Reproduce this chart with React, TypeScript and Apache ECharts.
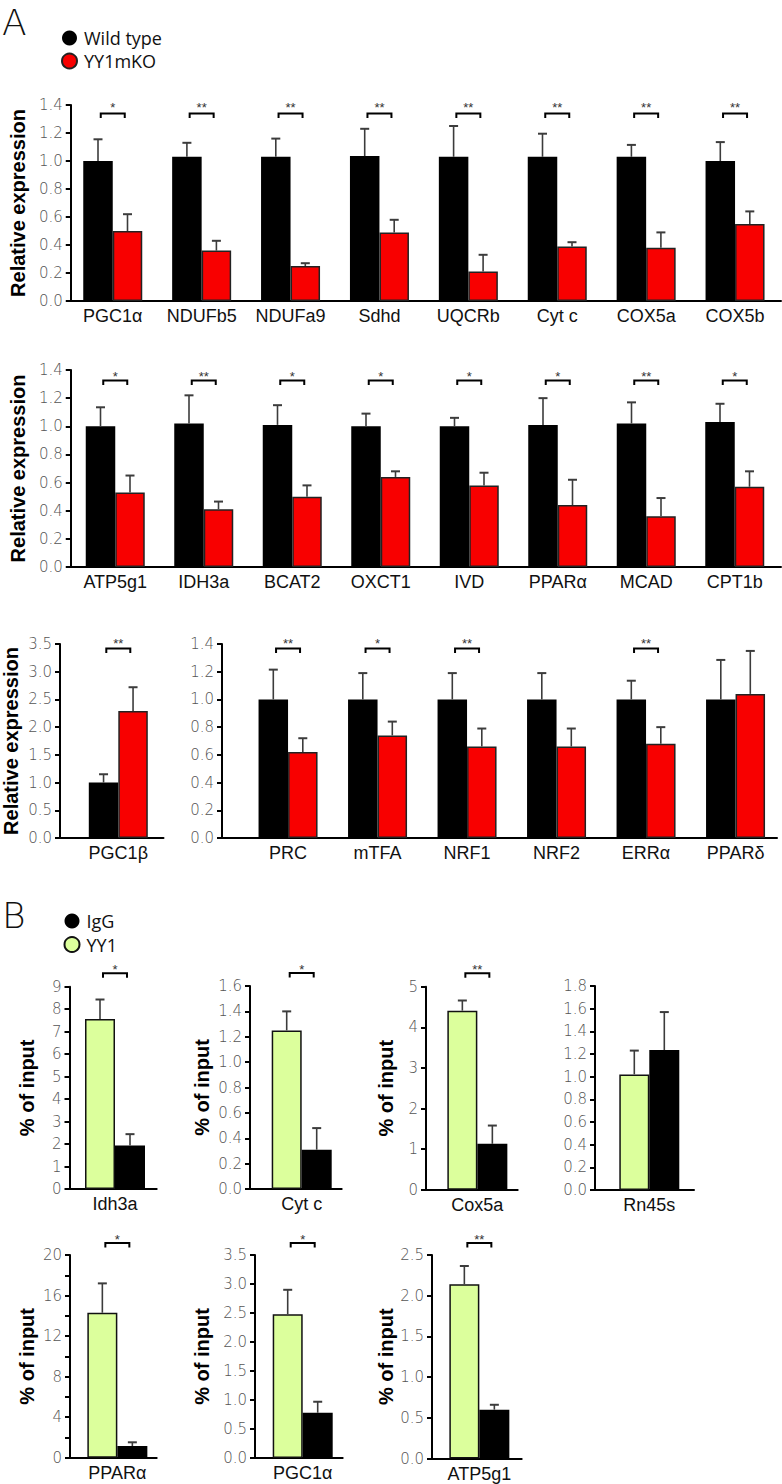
import React, { useEffect, useRef } from "react";
import * as echarts from "echarts";

// ---------- Panel A data ----------
const catsA1 = ["PGC1α", "NDUFb5", "NDUFa9", "Sdhd", "UQCRb", "Cyt c", "COX5a", "COX5b"];
const wtA1 = [1.0, 1.03, 1.03, 1.035, 1.03, 1.03, 1.03, 1.0];
const wtErrA1 = [0.155, 0.1, 0.13, 0.195, 0.22, 0.165, 0.085, 0.135];
const koA1 = [0.5, 0.36, 0.25, 0.49, 0.21, 0.39, 0.38, 0.55];
const koErrA1 = [0.12, 0.07, 0.02, 0.09, 0.12, 0.03, 0.11, 0.09];
const sigA1 = ["*", "**", "**", "**", "**", "**", "**", "**"];

const catsA2 = ["ATP5g1", "IDH3a", "BCAT2", "OXCT1", "IVD", "PPARα", "MCAD", "CPT1b"];
const wtA2 = [1.0, 1.02, 1.01, 1.0, 1.0, 1.01, 1.02, 1.03];
const wtErrA2 = [0.135, 0.2, 0.14, 0.09, 0.06, 0.19, 0.15, 0.13];
const koA2 = [0.53, 0.41, 0.5, 0.64, 0.58, 0.44, 0.36, 0.57];
const koErrA2 = [0.12, 0.055, 0.08, 0.04, 0.09, 0.18, 0.13, 0.11];
const sigA2 = ["*", "**", "*", "*", "*", "*", "**", "*"];

const catsA3 = ["PGC1β"];
const wtA3 = [1.0];
const wtErrA3 = [0.15];
const koA3 = [2.29];
const koErrA3 = [0.43];
const sigA3 = ["**"];

const catsA4 = ["PRC", "mTFA", "NRF1", "NRF2", "ERRα", "PPARδ"];
const wtA4 = [1.0, 1.0, 1.0, 1.0, 1.0, 1.0];
const wtErrA4 = [0.215, 0.19, 0.19, 0.19, 0.135, 0.285];
const koA4 = [0.62, 0.74, 0.66, 0.66, 0.68, 1.04];
const koErrA4 = [0.1, 0.1, 0.13, 0.13, 0.12, 0.31];
const sigA4 = ["**", "*", "**", "", "**", ""];

// ---------- Panel B data (YY1 first, IgG second) ----------
const catsB = ["Idh3a", "Cyt c", "Cox5a", "Rn45s", "PPARα", "PGC1α", "ATP5g1"];
const yy1B = [7.56, 1.25, 4.41, 1.02, 14.3, 2.48, 2.14];
const yy1ErrB = [0.87, 0.15, 0.25, 0.21, 2.9, 0.42, 0.225];
const iggB = [1.93, 0.31, 1.13, 1.235, 1.15, 0.78, 0.6];
const iggErrB = [0.51, 0.17, 0.45, 0.335, 0.37, 0.19, 0.06];
const sigB = ["*", "*", "**", "", "*", "*", "**"];
const yMaxB = [9, 1.6, 5, 1.8, 20, 3.5, 2.5];
const yStepB = [1, 0.2, 1, 0.2, 4, 0.5, 0.5];

const LEGEND_A = ["Wild type", "YY1mKO"];
const LEGEND_B = ["IgG", "YY1"];

const BLACK = "#000000";
const RED = "#f80000";
const GREEN = "#dcff9c";

type Spec = {
  cats: string[];
  s1: number[]; e1: number[]; s2: number[]; e2: number[];
  sig: string[];
  names: string[];
  colors: string[];
  borders: string[];
  yMax: number; yStep: number; dec: number; minor?: boolean;
  yName?: string; nameGap?: number;
  axisX: number; axisEnd: number; bandL: number; bandR: number; top: number; bottom: number;
  barW: number; bDy: number; sDy: number;
};

const specs: Spec[] = [
  { cats: catsA1, s1: wtA1, e1: wtErrA1, s2: koA1, e2: koErrA1, sig: sigA1, names: LEGEND_A, colors: [BLACK, RED], borders: [BLACK, "#222"],
    yMax: 1.4, yStep: 0.2, dec: 1, yName: "Relative expression", nameGap: 39,
    axisX: 60, axisEnd: 781, bandL: 68.3, bandR: 779.5, top: 105, bottom: 301, barW: 29.5, bDy: 8.5, sDy: -0.5 },
  { cats: catsA2, s1: wtA2, e1: wtErrA2, s2: koA2, e2: koErrA2, sig: sigA2, names: LEGEND_A, colors: [BLACK, RED], borders: [BLACK, "#222"],
    yMax: 1.4, yStep: 0.2, dec: 1, yName: "Relative expression", nameGap: 39,
    axisX: 60, axisEnd: 781, bandL: 71, bandR: 779, top: 370, bottom: 567, barW: 29.5, bDy: 10.5, sDy: 3 },
  { cats: catsA3, s1: wtA3, e1: wtErrA3, s2: koA3, e2: koErrA3, sig: sigA3, names: LEGEND_A, colors: [BLACK, RED], borders: [BLACK, "#222"],
    yMax: 3.5, yStep: 0.5, dec: 1, yName: "Relative expression", nameGap: 39,
    axisX: 59, axisEnd: 163.5, bandL: 73, bandR: 163.6, top: 644, bottom: 838, barW: 29.5, bDy: 4.5, sDy: -4 },
  { cats: catsA4, s1: wtA4, e1: wtErrA4, s2: koA4, e2: koErrA4, sig: sigA4, names: LEGEND_A, colors: [BLACK, RED], borders: [BLACK, "#222"],
    yMax: 1.4, yStep: 0.2, dec: 1,
    axisX: 222, axisEnd: 777, bandL: 243.3, bandR: 780.3, top: 644, bottom: 838, barW: 29.5, bDy: 4.5, sDy: -4 },
];

const bLayout = [
  { axisX: 69.5, axisEnd: 156.7, bandL: 73, bandR: 157, top: 986.7, bottom: 1189, nameGap: 32.5, bDy: -13.5, sDy: -20.5 },
  { axisX: 250, axisEnd: 341.7, bandL: 261.7, bandR: 341.7, top: 986, bottom: 1189, nameGap: 38, bDy: -13, sDy: -20 },
  { axisX: 426, axisEnd: 517.7, bandL: 437, bandR: 517.7, top: 986.7, bottom: 1189.7, nameGap: 30, bDy: -13.5, sDy: -20 },
  { axisX: 595, axisEnd: 694, bandL: 604.6, bandR: 694, top: 986, bottom: 1190, nameGap: 0, bDy: -13, sDy: -20 },
  { axisX: 70, axisEnd: 156.7, bandL: 78, bandR: 156.7, top: 1255, bottom: 1457.7, nameGap: 33, bDy: -12, sDy: -18.5 },
  { axisX: 255, axisEnd: 342.7, bandL: 262.7, bandR: 342.7, top: 1255, bottom: 1458, nameGap: 43, bDy: -12, sDy: -18.5 },
  { axisX: 432, axisEnd: 521.7, bandL: 437, bandR: 521.7, top: 1255, bottom: 1458.5, nameGap: 36, bDy: -12, sDy: -18.5 },
];

catsB.forEach((c, i) => {
  const L = bLayout[i];
  specs.push({
    cats: [c], s1: [yy1B[i]], e1: [yy1ErrB[i]], s2: [iggB[i]], e2: [iggErrB[i]], sig: [sigB[i]],
    names: [LEGEND_B[1], LEGEND_B[0]], colors: [GREEN, BLACK], borders: ["#111", BLACK],
    yMax: yMaxB[i], yStep: yStepB[i], dec: yStepB[i] < 1 ? 1 : 0, minor: i === 4,
    yName: i === 3 ? undefined : "% of input", nameGap: L.nameGap,
    axisX: L.axisX, axisEnd: L.axisEnd, bandL: L.bandL, bandR: L.bandR, top: L.top, bottom: L.bottom,
    barW: 30, bDy: L.bDy, sDy: L.sDy,
  });
});

const TICK_FONT = { color: "#555", fontSize: 15, fontFamily: "DejaVu Sans", fontWeight: 200 as any };

function buildOption() {
  const grid: any[] = [];
  const xAxis: any[] = [];
  const yAxis: any[] = [];
  const series: any[] = [];

  specs.forEach((c, k) => {
    const ga = 2 * k;
    const gb = 2 * k + 1;
    const h = c.bottom - c.top;
    grid.push({ left: c.axisX, width: c.axisEnd - c.axisX, top: c.top, height: h });
    grid.push({ left: c.bandL, width: c.bandR - c.bandL, top: c.top, height: h });

    xAxis.push({
      gridIndex: ga, type: "value", min: 0, max: 1,
      axisLine: { show: true, onZero: false, lineStyle: { color: "#000", width: 2 } },
      axisTick: { show: false }, axisLabel: { show: false }, splitLine: { show: false },
    });
    yAxis.push({
      gridIndex: ga, type: "value", min: 0, max: c.yMax, interval: c.yStep,
      axisLine: { show: true, lineStyle: { color: "#000", width: 2 } },
      axisTick: { show: true, length: 5, lineStyle: { color: "#000", width: 2 } },
      minorTick: c.minor
        ? { show: true, splitNumber: 2, length: 5, lineStyle: { color: "#000", width: 2 } }
        : { show: false },
      axisLabel: { ...TICK_FONT, margin: 8, formatter: (v: number) => v.toFixed(c.dec) },
      splitLine: { show: false },
      name: c.yName || "",
      nameLocation: "middle",
      nameGap: c.nameGap || 0,
      nameTextStyle: { fontSize: 20, fontWeight: "bold", fontFamily: "Liberation Sans", color: "#000" },
    });
    xAxis.push({
      gridIndex: gb, type: "category", data: c.cats,
      axisLine: { show: false }, axisTick: { show: false },
      axisLabel: { interval: 0, margin: 6, fontSize: 18, color: "#111", fontFamily: "Liberation Sans" },
    });
    yAxis.push({ gridIndex: gb, type: "value", min: 0, max: c.yMax, show: false });

    [0, 1].forEach((j) => {
      const vals = j === 0 ? c.s1 : c.s2;
      const errs = j === 0 ? c.e1 : c.e2;
      series.push({
        type: "bar", name: c.names[j], xAxisIndex: gb, yAxisIndex: gb,
        data: vals, barWidth: c.barW, barGap: "0%",
        itemStyle: { color: c.colors[j], borderColor: c.borders[j], borderWidth: c.colors[j] === BLACK ? 0 : 1.5 },
        z: 2,
      });
      const off = (j === 0 ? -1 : 1) * c.barW / 2;
      series.push({
        type: "custom", name: "err" + k + "_" + j, xAxisIndex: gb, yAxisIndex: gb, z: 3,
        data: vals.map((v, i) => [i, v, errs[i]]),
        renderItem: (_p: any, api: any) => {
          const i = api.value(0);
          const v = api.value(1);
          const e = api.value(2);
          const p0 = api.coord([i, v]);
          const p1 = api.coord([i, v + e]);
          const x = p0[0] + off;
          return {
            type: "group",
            children: [
              { type: "line", shape: { x1: x, y1: p0[1], x2: x, y2: p1[1] }, style: { stroke: "#3c3c3c", lineWidth: 1.6 } },
              { type: "line", shape: { x1: x - 4.5, y1: p1[1], x2: x + 4.5, y2: p1[1] }, style: { stroke: "#3c3c3c", lineWidth: 2 } },
            ],
          };
        },
      });
    });

    series.push({
      type: "custom", name: "sig" + k, xAxisIndex: gb, yAxisIndex: gb, z: 4,
      data: c.sig.map((s, i) => [i, c.yMax]).filter((d) => c.sig[d[0]] !== ""),
      renderItem: (_p: any, api: any) => {
        const i = api.value(0);
        const p = api.coord([i, c.yMax]);
        const yb = p[1] + c.bDy;
        const hw = 12;
        return {
          type: "group",
          children: [
            {
              type: "polyline",
              shape: { points: [[p[0] - hw, yb + 4.5], [p[0] - hw, yb], [p[0] + hw, yb], [p[0] + hw, yb + 4.5]] },
              style: { stroke: "#000", lineWidth: 2, fill: null },
            },
            {
              type: "text", x: p[0], y: p[1] + c.sDy + 3,
              style: { text: c.sig[i], align: "center", verticalAlign: "middle", fontSize: 13, fill: "#333", fontFamily: "Liberation Sans" },
            },
          ],
        };
      },
    });
  });

  const legendText = { fontSize: 18, fontFamily: "Open Sans", color: "#111", lineHeight: 15 };
  return {
    animation: false,
    grid, xAxis, yAxis, series,
    legend: [
      { data: LEGEND_A, orient: "vertical", left: 61, top: 29, itemWidth: 19, itemHeight: 15, itemGap: 5, icon: "circle", selectedMode: false, textStyle: legendText, padding: 0 },
      { data: LEGEND_B, orient: "vertical", left: 63.5, top: 912, itemWidth: 19, itemHeight: 15, itemGap: 5.5, icon: "circle", selectedMode: false, textStyle: legendText, padding: 0 },
    ],
    graphic: [
      { type: "text", left: 2, top: 4, style: { text: "A", fontSize: 36, fontFamily: "DejaVu Sans", fontWeight: 200, fill: "#111" } },
      { type: "text", left: 2, top: 897, style: { text: "B", fontSize: 36, fontFamily: "DejaVu Sans", fontWeight: 200, fill: "#111" } },
    ],
  };
}

export default function App() {
  const ref = useRef<HTMLDivElement>(null);
  useEffect(() => {
    if (!ref.current) return;
    const chart = echarts.init(ref.current, undefined, { renderer: "svg" });
    chart.setOption(buildOption() as any);
    return () => chart.dispose();
  }, []);
  return (
    <div
      ref={ref}
      style={{ position: "absolute", left: 0, top: 0, width: 782, height: 1484, background: "#fff" }}
    />
  );
}
